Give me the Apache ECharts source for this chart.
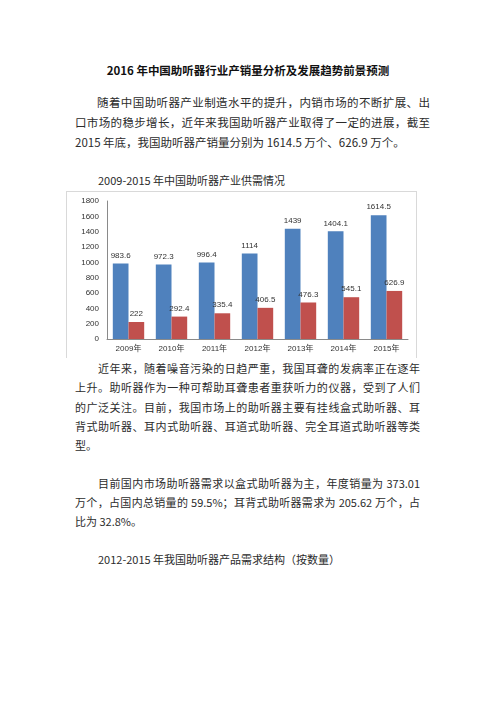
<!DOCTYPE html>
<html>
<head>
<meta charset="utf-8">
<script src="https://cdn.jsdelivr.net/npm/echarts@6/dist/echarts.min.js"></script>
<style>
html,body{margin:0;padding:0;background:#fff;width:496px;height:702px;overflow:hidden;}
body{position:relative;font-family:"Noto Sans CJK SC","Noto Sans",sans-serif;color:#2b2b2b;}
.l{position:absolute;line-height:20px;font-size:11px;white-space:nowrap;}
.j{white-space:normal;text-align:justify;text-align-last:justify;}
.p1{font-size:11.5px;}
.t{left:0;width:496px;text-align:center;font-weight:bold;font-size:11.5px;color:#111;}
#frame{position:absolute;left:66px;top:191px;width:351px;height:167px;border:1px solid #d9d9d9;border-bottom:none;box-sizing:border-box;}
#chart{position:absolute;left:66px;top:191px;width:352px;height:167px;}
</style>
</head>
<body>
<div class="l t" style="top:60px">2016 年中国助听器行业产销量分析及发展趋势前景预测</div>

<div class="l p1 j" style="left:97px;top:92px;width:333px">随着中国助听器产业制造水平的提升，内销市场的不断扩展、出</div>
<div class="l p1 j" style="left:75px;top:112px;width:355px">口市场的稳步增长，近年来我国助听器产业取得了一定的进展，截至</div>
<div class="l p1" style="left:75px;top:132px">2015 年底，我国助听器产销量分别为 1614.5 万个、626.9 万个。</div>

<div class="l" style="left:98px;top:170px">2009-2015 年中国助听器产业供需情况</div>

<div id="frame"></div>
<div id="chart"></div>

<div class="l j" style="left:98px;top:358px;width:322px">近年来，随着噪音污染的日趋严重，我国耳聋的发病率正在逐年</div>
<div class="l j" style="left:75px;top:377px;width:345px">上升。助听器作为一种可帮助耳聋患者重获听力的仪器，受到了人们</div>
<div class="l j" style="left:75px;top:397px;width:345px">的广泛关注。目前，我国市场上的助听器主要有挂线盒式助听器、耳</div>
<div class="l j" style="left:75px;top:416px;width:345px">背式助听器、耳内式助听器、耳道式助听器、完全耳道式助听器等类</div>
<div class="l" style="left:75px;top:435px">型。</div>

<div class="l j" style="left:98px;top:473px;width:322px">目前国内市场助听器需求以盒式助听器为主，年度销量为 373.01</div>
<div class="l j" style="left:75px;top:492px;width:345px">万个，占国内总销量的 59.5%；耳背式助听器需求为 205.62 万个，占</div>
<div class="l" style="left:75px;top:511px">比为 32.8%。</div>

<div class="l" style="left:98px;top:549px">2012-2015 年我国助听器产品需求结构（按数量）</div>

<script>
const years = ['2009年', '2010年', '2011年', '2012年', '2013年', '2014年', '2015年'];
const production = [983.6, 972.3, 996.4, 1114, 1439, 1404.1, 1614.5];
const sales = [222, 292.4, 335.4, 406.5, 476.3, 545.1, 626.9];
const yMin = 0, yMax = 1800, yStep = 200;

const chart = echarts.init(document.getElementById('chart'), null, {renderer: 'canvas'});
const lblFont = {fontFamily: 'Liberation Sans, Arial, sans-serif', fontSize: 8, color: '#333'};
chart.setOption({
  animation: false,
  grid: {left: 41, right: 10, top: 10, bottom: 19, containLabel: false},
  xAxis: {
    type: 'category',
    data: years,
    axisLine: {show: true, lineStyle: {color: '#8a8a8a', width: 1}},
    axisTick: {show: false},
    axisLabel: {margin: 6, interval: 0, fontFamily: 'Liberation Sans, "Noto Sans CJK SC", sans-serif', fontSize: 8, color: '#333'}
  },
  yAxis: {
    type: 'value',
    min: yMin, max: yMax, interval: yStep,
    splitLine: {show: false},
    axisLine: {show: true, lineStyle: {color: '#8a8a8a', width: 1}},
    axisTick: {show: false},
    axisLabel: Object.assign({margin: 8, formatter: function (v) { return String(v); }}, lblFont)
  },
  series: [
    {
      type: 'bar', name: '产量', data: production,
      barGap: '0%', barCategoryGap: '27%',
      itemStyle: {color: '#4f81bd'},
      label: Object.assign({show: true, position: 'top', distance: 4}, lblFont)
    },
    {
      type: 'bar', name: '销量', data: sales,
      barGap: '0%', barCategoryGap: '27%',
      itemStyle: {color: '#c0504d'},
      label: Object.assign({show: true, position: 'top', distance: 4}, lblFont)
    }
  ]
});
</script>
</body>
</html>
